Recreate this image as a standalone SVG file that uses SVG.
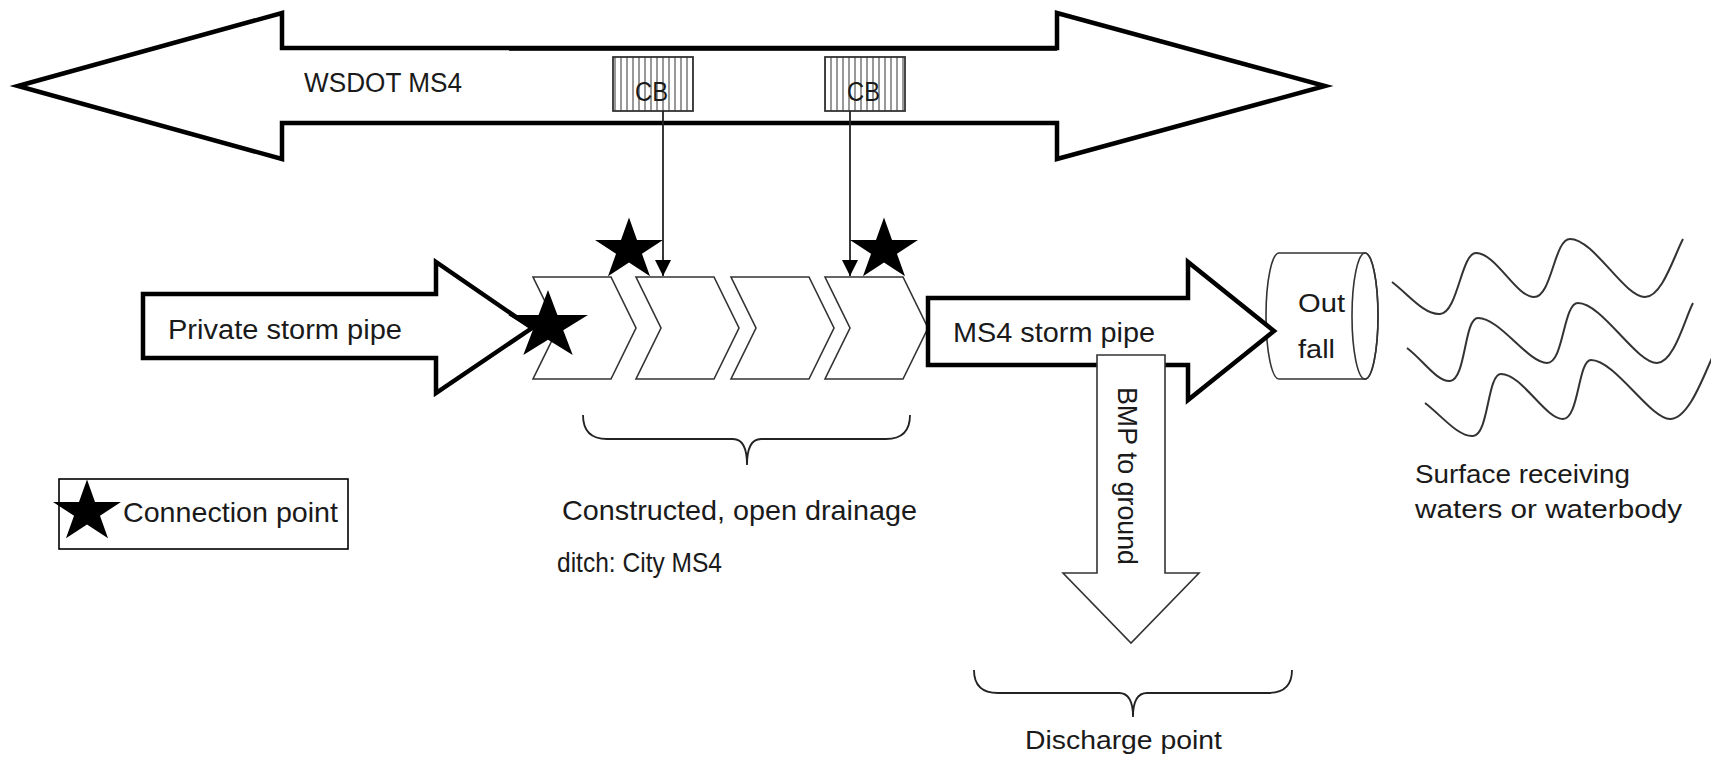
<svg xmlns="http://www.w3.org/2000/svg" width="1711" height="758" viewBox="0 0 1711 758">
<style>
.bg{fill:#ffffff}
.thick{fill:#ffffff;stroke:#000;stroke-width:4.5;stroke-linejoin:miter}
.thin{fill:#ffffff;stroke:#333;stroke-width:1.6;stroke-linejoin:miter}
.line{fill:none;stroke:#222;stroke-width:1.8}
.wave{fill:none;stroke:#333;stroke-width:2}
.t{font-family:"Liberation Sans",Arial,sans-serif;fill:#1a1a1a}
.star{fill:#000}
</style>
<defs>
<pattern id="hatch" width="6" height="10" patternUnits="userSpaceOnUse">
<rect width="6" height="10" fill="#fff"/>
<line x1="3" y1="0" x2="3" y2="10" stroke="#333" stroke-width="1"/>
</pattern>
<path id="star" d="M0,-1 L0.2245,-0.309 L0.951,-0.309 L0.363,0.118 L0.588,0.809 L0,0.382 L-0.588,0.809 L-0.363,0.118 L-0.951,-0.309 L-0.2245,-0.309 Z"/>
<marker id="ah" viewBox="0 0 16 16" refX="16" refY="8" markerWidth="16" markerHeight="16" orient="auto" markerUnits="userSpaceOnUse">
<path d="M0,0 L16,8 L0,16 Z" fill="#000"/>
</marker>
</defs>
<rect class="bg" x="0" y="0" width="1711" height="758"/>

<g id="wsdot-ms4">
<polygon class="thick" stroke-width="4" points="18,86 282,13 282,48 1057,48 1057,13 1325,86 1057,159 1057,123 282,123 282,159"/>
<line x1="509" y1="49.5" x2="1057" y2="49.5" stroke="#000" stroke-width="2.5"/>
<text class="t" x="304" y="92" font-size="27" textLength="158" lengthAdjust="spacingAndGlyphs">WSDOT MS4</text>
</g>

<g id="cb1">
<rect x="613" y="57" width="80" height="54" fill="url(#hatch)" stroke="#333" stroke-width="1.8"/>
<text class="t" x="635" y="101" font-size="27" textLength="33" lengthAdjust="spacingAndGlyphs">CB</text>
</g>
<g id="cb2">
<rect x="825" y="57" width="80" height="54" fill="url(#hatch)" stroke="#333" stroke-width="1.8"/>
<text class="t" x="847" y="101" font-size="27" textLength="33" lengthAdjust="spacingAndGlyphs">CB</text>
</g>

<g id="ditch">
<polygon class="thin" points="533,277 611,277 636,328 611,379 533,379 558,328"/>
<polygon class="thin" points="636,277 714,277 739,328 714,379 636,379 661,328"/>
<polygon class="thin" points="731,277 809,277 834,328 809,379 731,379 756,328"/>
<polygon class="thin" points="825,277 903,277 928,328 903,379 825,379 850,328"/>
</g>

<g id="private-pipe">
<polygon class="thick" points="143,294 436,294 436,262 532,328 436,393 436,358 143,358"/>
<text class="t" x="168" y="339" font-size="27" textLength="234" lengthAdjust="spacingAndGlyphs">Private storm pipe</text>
</g>

<g id="outfall">
<path class="thin" d="M1279,253 L1365,253 A13,63 0 0,1 1365,379 L1279,379 A13,63 0 0,1 1279,253 Z"/>
<ellipse cx="1365" cy="316" rx="13" ry="63" fill="none" stroke="#333" stroke-width="1.6"/>
<text class="t" x="1298" y="312" font-size="26" textLength="47" lengthAdjust="spacingAndGlyphs">Out</text>
<text class="t" x="1298" y="358" font-size="26" textLength="37" lengthAdjust="spacingAndGlyphs">fall</text>
</g>

<g id="ms4-pipe">
<polygon class="thick" points="928,298 1188,298 1188,262 1274,331 1188,400 1188,365 928,365"/>
<text class="t" x="953" y="342" font-size="28" textLength="202" lengthAdjust="spacingAndGlyphs">MS4 storm pipe</text>
</g>

<g id="bmp">
<polygon class="thin" stroke="#444" points="1097,355 1165,355 1165,573 1199,573 1131,643 1063,573 1097,573"/>
<text class="t" transform="translate(1118,387) rotate(90)" x="0" y="0" font-size="28" textLength="178" lengthAdjust="spacingAndGlyphs">BMP to ground</text>
</g>

<g id="connectors">
<path class="line" d="M663,111 L663,276" marker-end="url(#ah)"/>
<path class="line" d="M850,111 L850,276" marker-end="url(#ah)"/>
</g>

<g id="connection-points">
<use href="#star" class="star" transform="translate(629,250) scale(35.75,32.6)"/>
<use href="#star" class="star" transform="translate(884,250) scale(35.75,32.6)"/>
<use href="#star" class="star" transform="translate(548,326) scale(42,36)"/>
</g>

<g id="ditch-brace">
<path class="line" stroke-width="1.6" d="M583,415 Q583,439 607,439 L733,439 Q747,439 747,465 Q747,439 761,439 L886,439 Q910,439 910,415"/>
<text class="t" x="562" y="520" font-size="28" textLength="355" lengthAdjust="spacingAndGlyphs">Constructed, open drainage</text>
<text class="t" x="557" y="572" font-size="28" textLength="165" lengthAdjust="spacingAndGlyphs">ditch: City MS4</text>
</g>

<g id="discharge-brace">
<path class="line" stroke-width="1.6" d="M974,670 Q974,693 998,693 L1119,693 Q1133,693 1133,717 Q1133,693 1147,693 L1268,693 Q1292,693 1292,670"/>
<text class="t" x="1025" y="749" font-size="26" textLength="197" lengthAdjust="spacingAndGlyphs">Discharge point</text>
</g>

<g id="waters">
<path class="wave" d="M1392,282 C1408,294 1424,315 1440,314 C1458,313 1461,253 1476,253 C1496,253 1516,297 1534,297 C1552,297 1554,239 1570,239 C1594,239 1624,297 1645,297 C1662,297 1674,256 1683,239"/>
<path class="wave" d="M1407,348 C1423,360 1437,382 1450,381 C1466,380 1464,318 1478,318 C1500,318 1528,363 1547,363 C1564,363 1563,303 1578,303 C1602,303 1636,363 1657,363 C1674,363 1685,318 1693,303"/>
<path class="wave" d="M1425,403 C1441,415 1458,437 1473,436 C1489,435 1487,374 1501,374 C1522,374 1545,419 1563,419 C1579,419 1578,360 1591,360 C1615,360 1650,419 1670,419 C1688,419 1702,380 1712,358"/>
<text class="t" x="1415" y="483" font-size="26" textLength="215" lengthAdjust="spacingAndGlyphs">Surface receiving</text>
<text class="t" x="1415" y="518" font-size="26" textLength="267" lengthAdjust="spacingAndGlyphs">waters or waterbody</text>
</g>

<g id="legend">
<rect x="59" y="479" width="289" height="70" fill="#fff" stroke="#000" stroke-width="1.6"/>
<use href="#star" class="star" transform="translate(87,512) scale(35.75,32.6)"/>
<text class="t" x="123" y="522" font-size="28" textLength="215" lengthAdjust="spacingAndGlyphs">Connection point</text>
</g>
</svg>
